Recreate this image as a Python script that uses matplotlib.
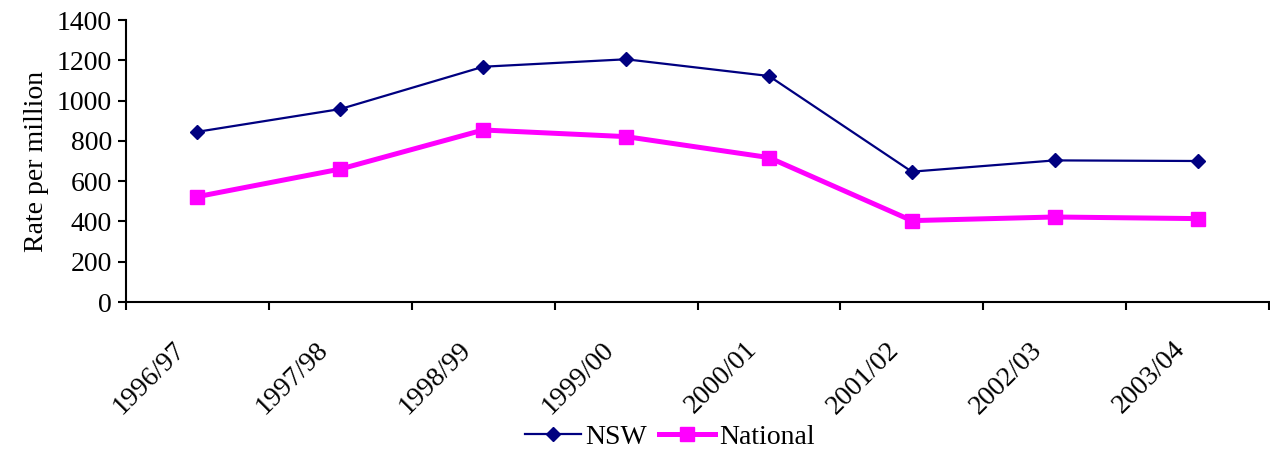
"""Rate per million, NSW vs National, 1996/97 to 2003/04
"""
import matplotlib
matplotlib.use('Agg')
import matplotlib.pyplot as plt
import matplotlib.transforms as mtransforms

# Data
years = ['1996/97', '1997/98', '1998/99', '1999/00',
         '2000/01', '2001/02', '2002/03', '2003/04']
nsw = [845, 958, 1168, 1205, 1122, 647, 703, 700]
national = [523, 660, 854, 821, 717, 404, 422, 414]

plt.rcParams['font.family'] = ['Liberation Serif', 'DejaVu Serif']
plt.rcParams['font.size'] = 20

fig = plt.figure(figsize=(12.7, 4.5), dpi=100)
ax = fig.add_axes([126 / 1270, 1 - 302 / 450, 1143 / 1270, 282 / 450])

x = range(len(years))
ax.plot(x, nsw, color='#000080', linewidth=1.6, marker='D', markersize=7.6,
        label='NSW', zorder=3)
ax.plot(x, national, color='#FF00FF', linewidth=3.6, marker='s', markersize=10.5,
        label='National', zorder=2)

ax.set_ylim(0, 1400)
ax.set_yticks(range(0, 1401, 200))
ax.set_xlim(-0.5, len(years) - 0.5)

# tick marks on category boundaries, labels at category centres
ax.set_xticks([i - 0.5 for i in range(len(years) + 1)])
ax.set_xticklabels([])
ax.set_xticks(list(x), minor=True)
ax.set_xticklabels(years, minor=True, rotation=45, ha='right', va='top',
                   rotation_mode='anchor')
ax.tick_params(axis='x', which='minor', length=0, pad=0)
ax.tick_params(axis='both', which='major', direction='out', length=6,
               width=1.5, color='black')
ax.tick_params(axis='y', pad=4)

offset = mtransforms.ScaledTranslation(-0.25, -0.35, fig.dpi_scale_trans)
for lab in ax.get_xticklabels(minor=True):
    lab.set_transform(lab.get_transform() + offset)

for side in ['top', 'right']:
    ax.spines[side].set_visible(False)
for side in ['left', 'bottom']:
    ax.spines[side].set_linewidth(1.5)

ax.set_ylabel('Rate per million', labelpad=6)

fig.legend(loc='center', bbox_to_anchor=(670 / 1270, 1 - 437 / 450), ncol=2,
           frameon=False, handlelength=2.0, handletextpad=0.15,
           columnspacing=0.45, borderpad=0)

fig.savefig('out.png', dpi=100)
